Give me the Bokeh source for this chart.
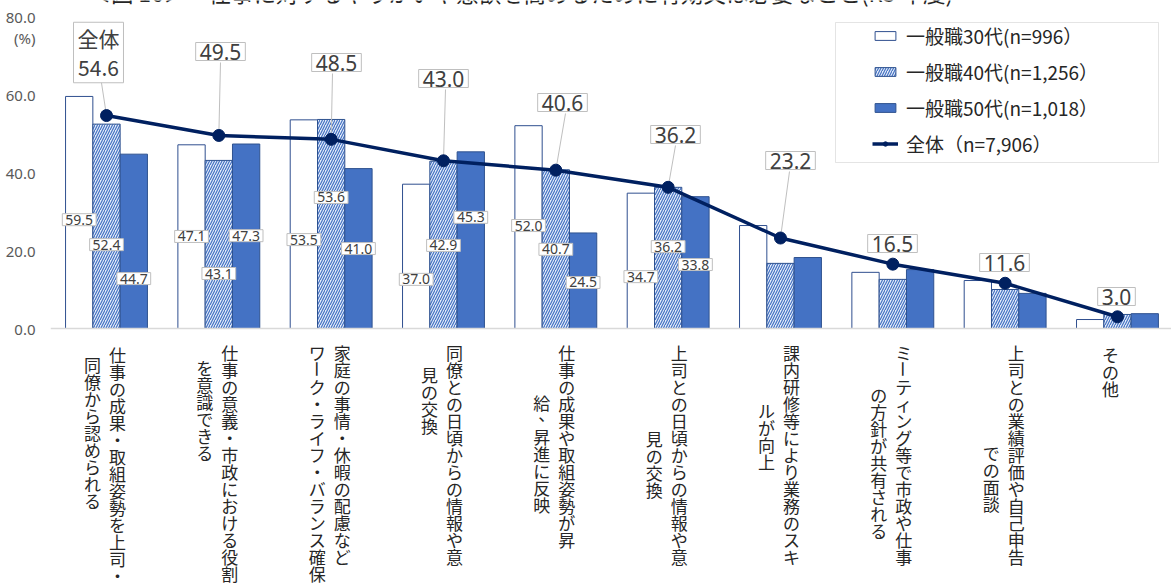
import math
from bokeh.plotting import figure
from bokeh.models import (ColumnDataSource, Label, Legend, LegendItem, BoxAnnotation,
                          FixedTicker, NumeralTickFormatter, Span, Range1d)
from bokeh.core.properties import value
from bokeh.transform import dodge
from bokeh.embed import file_html
from bokeh.resources import INLINE

# ---------------- data ----------------
title_text = "＜図 16＞　仕事に対するやりがいや意欲を高めるために有効又は必要なこと(R5 年度)"
categories = [
    "仕事の成果・取組姿勢を上司・同僚から認められる",
    "仕事の意義・市政における役割を意識できる",
    "家庭の事情・休暇の配慮などワーク・ライフ・バランス確保",
    "同僚との日頃からの情報や意見の交換",
    "仕事の成果や取組姿勢が昇給、昇進に反映",
    "上司との日頃からの情報や意見の交換",
    "課内研修等により業務のスキルが向上",
    "ミーティング等で市政や仕事の方針が共有される",
    "上司との業績評価や自己申告での面談",
    "その他",
]
series_names = ["一般職30代(n=996）", "一般職40代(n=1,256）", "一般職50代(n=1,018）"]
overall_name = "全体（n=7,906）"
vals_30 = [59.5, 47.1, 53.5, 37.0, 52.0, 34.7, 26.4, 14.4, 12.3, 2.3]
vals_40 = [52.4, 43.1, 53.6, 42.9, 40.7, 36.2, 16.7, 12.6, 10.0, 3.6]
vals_50 = [44.7, 47.3, 41.0, 45.3, 24.5, 33.8, 18.2, 15.1, 9.0, 3.8]
overall = [54.6, 49.5, 48.5, 43.0, 40.6, 36.2, 23.2, 16.5, 11.6, 3.0]
y_ticks = [0, 20, 40, 60, 80]
y_unit = "(%)"
overall_first_prefix = "全体"

# ---------------- layout helpers (page pixels -> data) ----------------
X0, XS = 106.0, 112.33
Y0, YS = 328.0, 3.9
def xd(px):
    return (px - X0) / XS
def yd(py):
    return (Y0 - py) / YS

FONT = "Noto Sans CJK JP"
NUMFONT = "Noto Sans"
BW = 0.243
W, H = 1171, 586
FL = 50  # frame left (px)

# label column layout (style)
col_split = [14, 14, 13, 13, 12, 13, 13, 13, 13, 3]
col_top_right = [345, 343, 343, 343, 343, 343, 343, 343, 343, 345]
col_top_left = [355, 358, 343, 365, 393, 429, 401, 385, 443, None]
PITCH = 17
# bar data label y-centres (value units) for groups 0..5
bar_label_y = [
    [27.9, 21.5, 12.8],
    [23.6, 14.1, 23.8],
    [22.8, 33.6, 20.5],
    [12.6, 21.3, 28.5],
    [26.4, 20.3, 11.8],
    [13.3, 21.0, 16.4],
]
# overall label box centres (page px) and leader start (page px)
ov_label_pos = [(98, 52), (220, 51), (336, 62), (443, 78), (562, 102),
                (675, 134), (790, 160), (892, 243), (1004, 262), (1116, 296)]
ov_leader_start = [(100, 76), (220, 62), (332, 73), (445, 89), (565, 113),
                   (675, 145), (789, 171), None, None, None]

unit_tick = round(yd(38), 2)

p = figure(width=W, height=H,
           x_range=Range1d(xd(FL), xd(W)), y_range=Range1d(yd(H), yd(0)),
           output_backend="svg", toolbar_location=None,
           min_border_left=FL, min_border_right=0, min_border_top=0, min_border_bottom=0)
p.outline_line_color = None
p.xgrid.visible = False
p.ygrid.visible = False
p.xaxis.visible = False
p.background_fill_color = "white"

yax = p.yaxis[0]
yax.ticker = FixedTicker(ticks=y_ticks + [unit_tick])
yax.formatter = NumeralTickFormatter(format="0.0")
yax.major_label_overrides = {unit_tick: y_unit}
yax.axis_line_color = None
yax.major_tick_line_color = None
yax.minor_tick_line_color = None
yax.major_label_standoff = 9
yax.major_label_text_font = NUMFONT
yax.major_label_text_font_size = "15px"
yax.major_label_text_color = "#595959"

xs = list(range(len(categories)))
src = ColumnDataSource(dict(x=xs, v30=vals_30, v40=vals_40, v50=vals_50, ov=overall))

r30 = p.vbar(x=dodge("x", -BW), top="v30", width=BW, source=src,
             fill_color="white", line_color="#2F4F8F", line_width=1)
r40 = p.vbar(x="x", top="v40", width=BW, source=src,
             fill_color="#E4ECF8", hatch_pattern="/", hatch_color="#4472C4",
             hatch_scale=5, hatch_weight=1.2, line_color="#2F528F", line_width=1)
r50 = p.vbar(x=dodge("x", BW), top="v50", width=BW, source=src,
             fill_color="#4472C4", line_color="#2F528F", line_width=1)

p.add_layout(Span(location=0, dimension="width", line_color="#D9D9D9", line_width=1.5))

# leader lines
lx0, ly0, lx1, ly1 = [], [], [], []
for i, st in enumerate(ov_leader_start):
    if st is None:
        continue
    lx0.append(xd(st[0])); ly0.append(yd(st[1]))
    lx1.append(xs[i]); ly1.append(overall[i])
p.segment(x0=lx0, y0=ly0, x1=lx1, y1=ly1, line_color="#BFBFBF", line_width=1)

rl = p.line("x", "ov", source=src, line_color="#002060", line_width=3.5)
rs = p.scatter("x", "ov", source=src, marker="circle", size=12,
               fill_color="#002060", line_color="#002060")

# bar data labels
series_vals = [vals_30, vals_40, vals_50]
offs = [-BW, 0, BW]
for g, ys in enumerate(bar_label_y):
    for s in range(3):
        p.add_layout(Label(x=g + offs[s], y=ys[s], text=f"{series_vals[s][g]:.1f}",
                           text_align="center", text_baseline="middle",
                           text_font=NUMFONT, text_font_size="14px", text_color="#404040",
                           background_fill_color="white", border_line_color="#BFBFBF",
                           border_line_width=1,
                           padding=dict(left=3, right=3, top=1, bottom=1)))

# overall labels
for i, (px, py) in enumerate(ov_label_pos):
    t = f"{overall[i]:.1f}"
    if i == 0:
        t = overall_first_prefix + "\n" + t
    p.add_layout(Label(x=xd(px), y=yd(py), text=t, text_align="center", text_baseline="middle",
                       text_font=FONT if i == 0 else NUMFONT, text_font_size="21px",
                       text_color="#404040", text_line_height=0.95,
                       background_fill_color="white", border_line_color="#BFBFBF",
                       border_line_width=1,
                       padding=dict(left=4, right=4, top=1, bottom=1)))

# category labels (vertical writing, one glyph per character)
cx, cy, ct, ca = [], [], [], []
def add_column(text, xpx_off, top, g):
    for i, ch in enumerate(text):
        xo, yo = 0.0, 0.0
        ang = 0.0
        if ch == "ー":
            ang = -math.pi / 2
        if ch == "、":
            xo, yo = 5, -6
        cx.append(g + (xpx_off + xo) / XS)
        cy.append(yd(top + i * PITCH + PITCH / 2 + yo))
        ct.append(ch)
        ca.append(ang)

for g, cat in enumerate(categories):
    right = cat[:col_split[g]]
    left = cat[col_split[g]:]
    if left:
        add_column(right, 11, col_top_right[g], g)
        add_column(left, -14, col_top_left[g], g)
    else:
        add_column(right, -7, col_top_right[g], g)

csrc = ColumnDataSource(dict(x=cx, y=cy, t=ct, a=ca))
p.text(x="x", y="y", text="t", angle="a", source=csrc, text_align="center",
       text_baseline="middle", text_font=value(FONT), text_font_size="17px",
       text_color="#262626")

# title (cut off at the top edge as in the reference)
p.text(x=[xd(88)], y=[yd(7)], text=[title_text], text_align="left", text_baseline="bottom",
       text_font=value(FONT), text_font_size="22.5px", text_color="#262626")

# legend frame + legend
p.add_layout(BoxAnnotation(left=xd(835), right=xd(1158), top=yd(22), bottom=yd(162),
                           fill_color="white", fill_alpha=1, line_color="#A6A6A6", line_width=1))
legend = Legend(items=[LegendItem(label=series_names[0], renderers=[r30]),
                       LegendItem(label=series_names[1], renderers=[r40]),
                       LegendItem(label=series_names[2], renderers=[r50]),
                       LegendItem(label=overall_name, renderers=[rl, rs])],
                location=(872 - FL, H - 157), padding=0, margin=0, spacing=9, label_height=25,
                glyph_width=26, glyph_height=11, label_standoff=8,
                border_line_alpha=0, background_fill_alpha=0,
                label_text_font=FONT, label_text_font_size="19px", label_text_color="#262626")
p.add_layout(legend)

open("out.html", "w").write(file_html(p, INLINE))
